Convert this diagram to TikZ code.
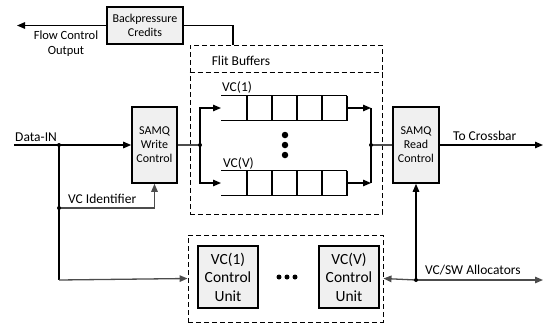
\documentclass[tikz,border=0pt]{standalone}
\usepackage{fontspec}
\setmainfont{Carlito}
\usetikzlibrary{arrows.meta}
\begin{document}
\begin{tikzpicture}[x=1pt,y=-1pt,
  box/.style={draw,line width=1.6pt,fill=gray!12,align=center,inner sep=0pt,font=\fontsize{12}{14}\selectfont},
  cubox/.style={box,font=\fontsize{15.5}{18.5}\selectfont},
  dashbox/.style={draw,line width=0.9pt,dash pattern=on 5pt off 3pt},
  conn/.style={line width=1.3pt},
  gconn/.style={line width=1.3pt,draw=black!70},
  arr/.style={-{Triangle[length=8pt,width=6.5pt]}},
  qline/.style={line width=1.6pt},
  dot/.style={circle,fill,inner sep=0pt,minimum size=4pt},
  bigdot/.style={circle,fill,inner sep=0pt,minimum size=6.5pt},
  lbl/.style={font=\fontsize{13.5}{16}\selectfont,inner sep=0pt}
]
\useasboundingbox (0,0) rectangle (547,325);

% boxes
\node[box,minimum width=76pt,minimum height=37pt] (bp) at (145,25.5) {Backpressure\\Credits};
\node[box,minimum width=45pt,minimum height=76pt] (wc) at (154.5,145) {SAMQ\\Write\\Control};
\node[box,minimum width=46pt,minimum height=76pt] (rc) at (416,145) {SAMQ\\Read\\Control};
\node[cubox,minimum width=60pt,minimum height=62pt] (cu1) at (228,277) {VC(1)\\Control\\Unit};
\node[cubox,minimum width=60pt,minimum height=62pt] (cuv) at (349,277) {VC(V)\\Control\\Unit};

% dashed containers
\node[dashbox,minimum width=192pt,minimum height=169pt,inner sep=0pt] (fb) at (286,129.5) {};
\draw[dashbox] (fb.west |- 0,72) -- (fb.east |- 0,72);
\node[lbl] (fbl) at (241,61) {Flit Buffers};
\node[dashbox,minimum width=195pt,minimum height=87pt,inner sep=0pt] (cu) at (285.5,278.5) {};

% queues
\foreach \q/\y in {1/108,V/183}{
  \draw[qline] (221,\y-12.5) -- (347,\y-12.5);
  \draw[qline] (221,\y+12.5) -- (347,\y+12.5);
  \foreach \x in {247,272,297,322,347}{\draw[qline] (\x,\y-12.5) -- (\x,\y+12.5);}
  \coordinate (qin\q) at (221,\y);
  \coordinate (qout\q) at (347,\y);
  \coordinate (qm\q) at (371,\y);
}
\node[lbl,anchor=west] (l1) at (222,87) {VC(1)};
\node[lbl,anchor=west] (lv) at (223,163) {VC(V)};
\foreach \yy in {135,145,155}{\node[bigdot] at (285,\yy) {};}

% labels
\node[lbl,align=center,font=\fontsize{12.5}{15}\selectfont] (fco) at (66,43.5) {Flow Control\\Output};
\node[lbl,anchor=west] (dinl) at (15,137) {Data-IN};
\node[lbl,anchor=west] (vcil) at (68,199) {VC Identifier};
\node[lbl,anchor=west] (tcl) at (453,136) {To Crossbar};
\node[lbl,anchor=west] (vsl) at (425,270) {VC/SW Allocators};

% coordinates
\coordinate (fcout) at (17,25.5);
\coordinate (fbtop) at (233,45);
\coordinate (din) at (14,145);
\coordinate (j1) at (59,145);
\coordinate (j2) at (59,208);
\coordinate (j3) at (59,280);
\coordinate (jin) at (200,145);
\coordinate (jout) at (371,145);
\coordinate (ja) at (416,280);
\coordinate (xb) at (543,145);
\coordinate (al) at (543,280);

% connectors
\draw[conn,arr] (bp.west) -- (fcout);
\draw[conn] (bp.east) -| (fbtop);
\draw[conn,arr] (din) -- (wc.west);
\draw[conn] (j1) -- (j3);
\draw[gconn,arr] (j3) -- (cu.west);
\draw[gconn,arr] (j2) -| (wc.south);
\draw[gconn] (wc.east) -- (jin);
\draw[conn,arr] (jin) |- (qin1);
\draw[conn,arr] (jin) |- (qinV);
\draw[conn,arr] (qout1) -- (qm1);
\draw[conn,arr] (qoutV) -- (qmV);
\draw[conn] (qm1) -- (qmV);
\draw[gconn] (jout) -- (rc.west);
\draw[conn,arr] (rc.east) -- (xb);
\draw[conn,arr] (ja) -- (rc.south);
\draw[gconn,arr] (ja) -- (cu.east);
\draw[gconn,arr] (ja) -- (al);

% junction dots
\foreach \p in {j1,j2,jin,jout,ja}{\node[dot] at (\p) {};}
\foreach \xx in {279,287,295}{\node[circle,fill,inner sep=0pt,minimum size=5pt] at (\xx,277) {};}
\end{tikzpicture}
\end{document}
